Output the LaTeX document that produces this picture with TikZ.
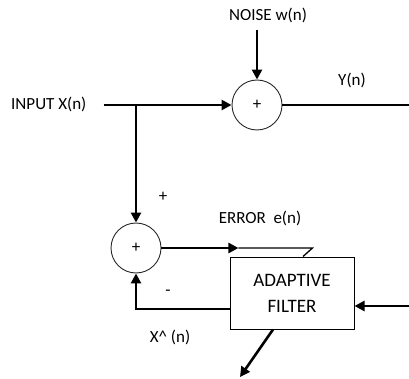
\documentclass[tikz,border=0pt]{standalone}
\usepackage{fontspec}
\setmainfont{Carlito}
\usetikzlibrary{arrows.meta,positioning,calc}
\begin{document}
\begin{tikzpicture}[x=1pt, y=-1pt,
  font=\fontsize{17}{20}\selectfont,
  sum/.style={draw=black!85, circle, minimum size=50pt, inner sep=0pt, line width=0.9pt},
  blk/.style={draw=black, line width=1pt, minimum width=124pt, minimum height=72pt, align=center, font=\fontsize{19}{22}\selectfont},
  lbl/.style={inner sep=1pt},
  wire/.style={black, line width=1.3pt},
  arr/.style={-{Triangle[length=10pt, width=10pt]}, black, line width=2.6pt}]
\useasboundingbox (0,0) rectangle (409,379);
\node[lbl] (noise) at (268,15) {NOISE w(n)};
\node[sum] (s1) at (257,105) {+};
\node[lbl] (yn) at (352,80) {Y(n)};
\node[lbl, anchor=west] (inp) at (10,104) {INPUT X(n)};
\coordinate (yend) at (409,105);
\coordinate (br) at (136,105);
\node[sum] (s2) at (136,248) {+};
\node[blk] (af) at (292,293) {ADAPTIVE\\[4pt]FILTER};
\node[lbl] (plus) at (163,197) {+};
\node[lbl] (minus) at (168,293) {-};
\node[lbl] (err) at (260,218) {ERROR\ \ e(n)};
\node[lbl] (xh) at (170,337) {X\textasciicircum\ (n)};
\coordinate (din) at (409,306);
\coordinate (fb) at (183,309);
\coordinate (out) at (240,377);
% signal path
\draw[arr] (s1.north|-noise.south) ++(0,6) -- (s1.north);
\draw[arr, shorten <=16pt] (inp.east|-s1) -- (s1.west);
\draw[wire] (s1.east) -- (yend);
\draw[arr] (br) -- (s2.north);
% error to filter
\draw[arr] (s2.east) -- ++(77,0) coordinate (etip);
\draw[wire] (etip) -- ++(74,0) -- ($(af.north)+(11,0)$);
% filter output back to the sum
\draw[wire] (af.west|-fb) -- (fb);
\draw[arr] (fb) -| (s2.south);
\draw[arr] (din) -- (af.east|-din);
\draw[arr] ($(af.south)+(-19,0)$) -- (out);
\end{tikzpicture}
\end{document}
